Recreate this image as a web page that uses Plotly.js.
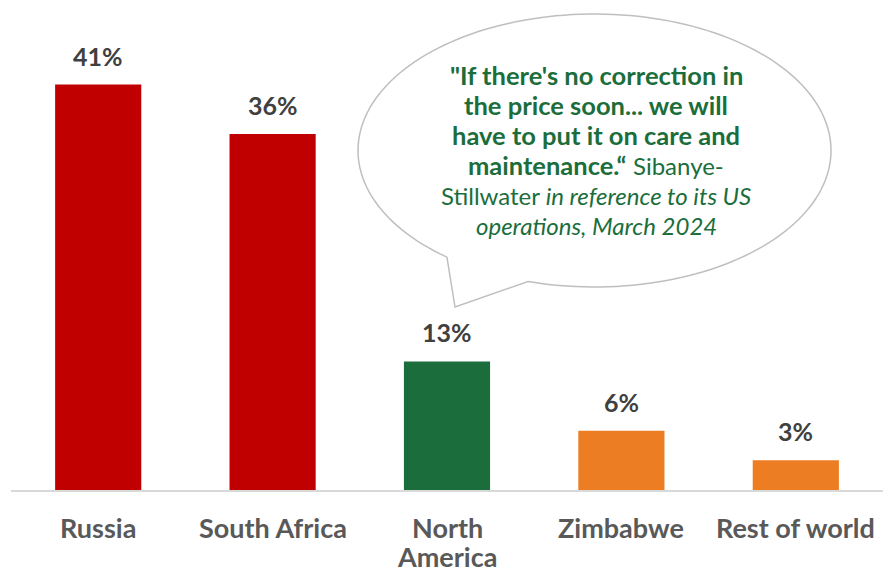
<!DOCTYPE html>
<html>
<head>
<meta charset="utf-8">
<script src="https://cdn.plot.ly/plotly-3.0.1.min.js"></script>
<style>html,body{margin:0;padding:0;background:#fff;}#chart{width:883px;height:568px;}</style>
</head>
<body>
<div id="chart"></div>
<script>
const categories = ["Russia", "South Africa", "North America", "Zimbabwe", "Rest of world"];
const tickLabels = ["Russia", "South Africa", "North<br>America", "Zimbabwe", "Rest of world"];
const shares = [41, 36, 13, 6, 3];
const barColors = ["#C00000", "#C00000", "#1B6E3C", "#ED7D22", "#ED7D22"];
const valueLabels = shares.map(v => v + "%");
const quoteLines = [
  '<b>"If there\'s no correction in</b>',
  '<b>the price soon... we will</b>',
  '<b>have to put it on care and</b>',
  '<b>maintenance.“</b> <span style="font-size:24px">Sibanye-</span>',
  '<span style="font-size:24px">Stillwater <i>in reference to its US</i></span>',
  '<span style="font-size:24px"><i>operations, March 2024</i></span>'
];

const W = 883, H = 568;
const margin = {l: 11, r: 0, t: 45, b: 78};
const pw = W - margin.l - margin.r, ph = H - margin.t - margin.b;
const px2x = p => (p - margin.l) / pw;
const px2y = p => (H - margin.b - p) / ph;

// speech bubble outline (decoration), built in pixel space then mapped to paper
const ell = {cx: 594.5, cy: 150.5, rx: 236.5, ry: 136.5};
const tailTip = [455, 307];
const tA = 128.6, tB = 106.3 + 360;
let path = "M" + px2x(tailTip[0]) + "," + px2y(tailTip[1]);
for (let t = tA; t <= tB + 0.001; t += 2) {
  const tt = Math.min(t, tB) * Math.PI / 180;
  path += " L" + px2x(ell.cx + ell.rx * Math.cos(tt)) + "," + px2y(ell.cy + ell.ry * Math.sin(tt));
}
{
  const tt = tB * Math.PI / 180;
  path += " L" + px2x(ell.cx + ell.rx * Math.cos(tt)) + "," + px2y(ell.cy + ell.ry * Math.sin(tt));
}
path += " Z";

const annotations = categories.map((c, i) => ({
  x: c, y: shares[i], xref: "x", yref: "y",
  text: "<b>" + valueLabels[i] + "</b>", showarrow: false,
  yanchor: "bottom", yshift: 12,
  font: {family: "Lato", size: 25, color: "#404040"}
}));
// category labels, one annotation per line so the line spacing matches
categories.forEach((c, i) => {
  tickLabels[i].split("<br>").forEach((line, j) => annotations.push({
    x: c, xref: "x", y: px2y(527 + j * 29), yref: "paper",
    text: "<b>" + line + "</b>", showarrow: false,
    xanchor: "center", yanchor: "middle",
    font: {family: "Lato", size: 27, color: "#595959"}
  }));
});
const firstLineY = 75, lineStep = 30;
quoteLines.forEach((t, i) => annotations.push({
  x: px2x(596), y: px2y(firstLineY + i * lineStep), xref: "paper", yref: "paper",
  text: t, showarrow: false, align: "center",
  xanchor: "center", yanchor: "middle",
  font: {family: "Lato", size: 25.5, color: "#1B6E3C"}
}));

Plotly.newPlot("chart", [{
  type: "bar", x: categories, y: shares,
  marker: {color: barColors}, hoverinfo: "skip"
}], {
  width: W, height: H, margin: margin,
  paper_bgcolor: "#fff", plot_bgcolor: "#fff",
  bargap: 0.506, showlegend: false,
  xaxis: {
    showticklabels: false,
    showline: true, linecolor: "#D9D9D9", linewidth: 2,
    ticks: "", showgrid: false, zeroline: false
  },
  yaxis: {range: [0, 45], visible: false, showgrid: false, zeroline: false},
  shapes: [{
    type: "path", xref: "paper", yref: "paper", path: path,
    fillcolor: "#FFFFFF", line: {color: "#BFBFBF", width: 1.5}, layer: "above"
  }],
  annotations: annotations
}, {staticPlot: true});
</script>
</body>
</html>
